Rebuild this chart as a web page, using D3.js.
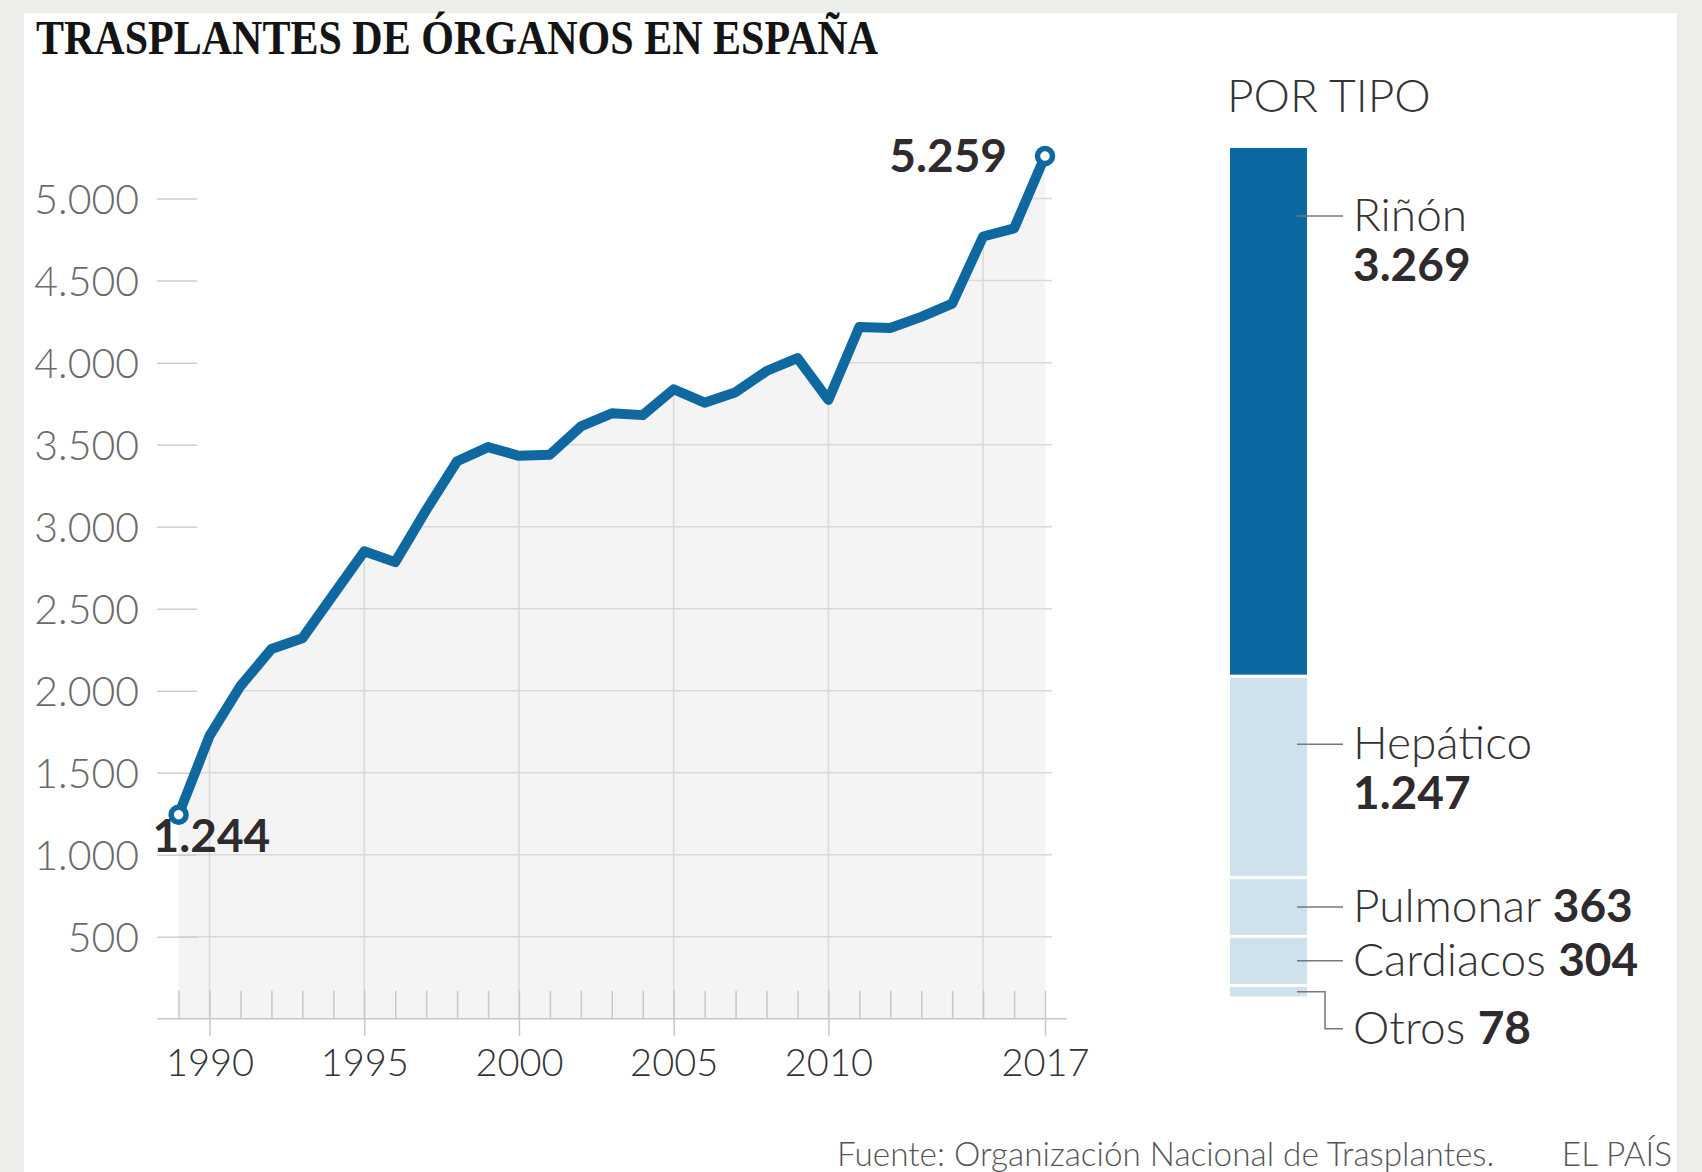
<!DOCTYPE html>
<html lang="es">
  <head>
    <meta charset="UTF-8"/>
    <title>Trasplantes de órganos en España</title>
    <script src="https://d3js.org/d3.v7.min.js"></script>
    <style>
      body { margin: 0; background: #eceeea; }
      text { font-family: 'Lato', sans-serif; }
      .title { font-family: 'Liberation Serif', serif; font-weight: bold; font-size: 48px; fill: #141414; }
      .axis .domain { display: none; }
      .y-axis text { font-size: 41px; font-weight: 300; fill: #6a6a6a; }
      .y-axis line { stroke: #cfcfcf; stroke-width: 1.5px; }
      .x-axis text { font-size: 38px; font-weight: 300; fill: #333; }
      .x-axis line, .x-minor line { stroke: #c8c8c8; stroke-width: 1.5px; }
      .grid line { stroke: #d9d9d9; stroke-width: 1.5px; }
      .value-label { font-size: 46px; font-weight: 700; fill: #2e2a2e; }
      .tipo-name { font-size: 46px; font-weight: 300; fill: #333; }
      .tipo-value { font-weight: 700; fill: #2e2a2e; }
      .leader { stroke: #777; stroke-width: 1.5px; fill: none; }
      .footer { font-size: 33.3px; font-weight: 300; fill: #555; }
    </style>
  </head>
  <body>
    <script type="text/javascript">

      // Total de trasplantes por año
      const years = [1989, 1990, 1991, 1992, 1993, 1994, 1995, 1996, 1997, 1998,
                     1999, 2000, 2001, 2002, 2003, 2004, 2005, 2006, 2007, 2008,
                     2009, 2010, 2011, 2012, 2013, 2014, 2015, 2016, 2017]
      const totals = [1244, 1725, 2029, 2254, 2320, 2585, 2850, 2784, 3101, 3399,
                      3485, 3432, 3439, 3611, 3691, 3680, 3838, 3756, 3820, 3949,
                      4028, 3773, 4218, 4211, 4279, 4360, 4769, 4818, 5259]

      const yTicks = [500, 1000, 1500, 2000, 2500, 3000, 3500, 4000, 4500, 5000]
      const labelYears = [1990, 1995, 2000, 2005, 2010, 2017]
      const gridYears = [1990, 1995, 2000, 2005, 2010, 2015]

      // Trasplantes de 2017 por tipo
      const tipos = ["Riñón", "Hepático", "Pulmonar", "Cardiacos", "Otros"]
      const tipoValores = [3269, 1247, 363, 304, 78]

      const titleText = "TRASPLANTES DE ÓRGANOS EN ESPAÑA"
      const sourceText = "Fuente: Organización Nacional de Trasplantes."

      const outerWidth = 1702,
            outerHeight = 1172

      const es = d3.formatLocale({decimal: ",", thousands: ".", grouping: [3], currency: ["", " €"]})
      const fmt = es.format(",d")

      const svg = d3.select("body").append("svg")
          .attr("width", outerWidth)
          .attr("height", outerHeight)

      svg.append("rect")
          .attr("width", outerWidth).attr("height", outerHeight)
          .attr("fill", "#eceeea")
      svg.append("rect")
          .attr("x", 24).attr("y", 13)
          .attr("width", 1653).attr("height", outerHeight - 13)
          .attr("fill", "#fff")

      svg.append("text")
          .attr("class", "title")
          .attr("x", 36).attr("y", 54)
          .attr("textLength", 842)
          .attr("lengthAdjust", "spacingAndGlyphs")
          .text(titleText)

      // ---- line chart ----
      const x = d3.scaleLinear()
          .domain([1989, 2017])
          .range([178.6, 1045])

      const y = d3.scaleLinear()
          .domain([0, 5000])
          .range([1018.8, 198.6])

      const series = years.map((yr, i) => ({year: yr, value: totals[i]}))

      const area = d3.area()
          .x(d => x(d.year))
          .y0(y(0))
          .y1(d => y(d.value))

      const line = d3.line()
          .x(d => x(d.year))
          .y(d => y(d.value))

      const defs = svg.append("defs")
      const clip = defs.append("clipPath").attr("id", "under")
      clip.append("path").attr("d", area(series))
      clip.append("rect")
          .attr("x", x(2017)).attr("y", y(totals[totals.length - 1]))
          .attr("width", 8).attr("height", y(0) - y(totals[totals.length - 1]))

      svg.append("path")
          .attr("d", area(series))
          .attr("fill", "#f4f4f4")

      // gridlines, only visible under the curve
      const grid = svg.append("g")
          .attr("class", "grid")
          .attr("clip-path", "url(#under)")

      grid.selectAll(".h")
        .data(yTicks)
        .join("line")
          .attr("x1", 157).attr("x2", 1052)
          .attr("y1", d => y(d)).attr("y2", d => y(d))

      grid.selectAll(".v")
        .data(gridYears)
        .join("line")
          .attr("x1", d => x(d)).attr("x2", d => x(d))
          .attr("y1", y(0)).attr("y2", y(5300))

      // y axis
      svg.append("g")
          .attr("class", "axis y-axis")
          .attr("transform", "translate(197,0)")
          .call(d3.axisLeft(y).tickValues(yTicks).tickSize(40).tickPadding(18).tickFormat(fmt))
          .call(g => g.selectAll("text").attr("dy", "0.36em"))

      // minor year ticks
      svg.append("g")
          .attr("class", "axis x-minor")
          .attr("transform", `translate(0,${y(0)})`)
          .call(d3.axisBottom(x).tickValues(years).tickSize(-28).tickFormat(""))

      // x axis with labels
      svg.append("g")
          .attr("class", "axis x-axis")
          .attr("transform", `translate(0,${y(0)})`)
          .call(d3.axisBottom(x).tickValues(labelYears).tickSize(17).tickFormat(d3.format("d")))
          .call(g => g.selectAll("text").attr("y", 57).attr("dy", 0))

      svg.append("line")
          .attr("x1", 157).attr("x2", 1067)
          .attr("y1", y(0)).attr("y2", y(0))
          .attr("stroke", "#c8c8c8").attr("stroke-width", 1.5)

      svg.append("path")
          .attr("d", line(series))
          .attr("fill", "none")
          .attr("stroke", "#0f69a0")
          .attr("stroke-width", 10)
          .attr("stroke-linejoin", "round")

      const ends = [series[0], series[series.length - 1]]
      svg.selectAll(".endpoint")
        .data(ends)
        .join("circle")
          .attr("cx", d => x(d.year))
          .attr("cy", d => y(d.value))
          .attr("r", 7.5)
          .attr("fill", "#fff")
          .attr("stroke", "#0f69a0")
          .attr("stroke-width", 5.5)

      svg.append("text")
          .attr("class", "value-label")
          .attr("x", x(ends[0].year) - 26)
          .attr("y", y(ends[0].value) + 37)
          .text(fmt(ends[0].value))

      svg.append("text")
          .attr("class", "value-label")
          .attr("x", x(ends[1].year) - 38)
          .attr("y", y(ends[1].value) + 16)
          .attr("text-anchor", "end")
          .text(fmt(ends[1].value))

      // ---- stacked bar por tipo ----
      svg.append("text")
          .attr("class", "tipo-name")
          .attr("x", 1227).attr("y", 112)
          .attr("font-size", 44)
          .attr("fill", "#444")
          .text("POR TIPO")

      const totalTipos = d3.sum(tipoValores)
      const yBar = d3.scaleLinear()
          .domain([0, totalTipos])
          .range([148, 998])

      let acc = 0
      const segs = tipos.map((t, i) => {
        const s = {tipo: t, value: tipoValores[i], y0: acc, y1: acc + tipoValores[i]}
        acc += tipoValores[i]
        return s
      })

      const barX = 1230, barW = 77, gap = 3

      svg.selectAll(".seg")
        .data(segs)
        .join("rect")
          .attr("x", barX)
          .attr("width", barW)
          .attr("y", (d, i) => yBar(d.y0) + (i ? gap / 2 : 0))
          .attr("height", (d, i) => Math.max(1, yBar(d.y1) - yBar(d.y0) - (i ? gap : gap / 2)))
          .attr("fill", (d, i) => i === 0 ? "#0b69a1" : "#cfe1ec")

      const labelX = 1353
      segs.forEach((d, i) => {
        const big = i < 2
        const mid = (yBar(d.y0) + yBar(d.y1)) / 2
        const ly = big ? yBar(d.y0) + 68 : mid
        if (d.tipo === "Otros") {
          const drop = ly + 37
          svg.append("path")
              .attr("class", "leader")
              .attr("d", `M${barX + barW - 10},${ly}H${barX + barW + 18}V${drop}H${labelX - 10}`)
          const t = svg.append("text").attr("class", "tipo-name")
              .attr("x", labelX).attr("y", drop + 15)
          t.append("tspan").text(d.tipo + " ")
          t.append("tspan").attr("class", "tipo-value").text(fmt(d.value))
          return
        }
        svg.append("line")
            .attr("class", "leader")
            .attr("x1", barX + barW - 10).attr("x2", labelX - 10)
            .attr("y1", ly).attr("y2", ly)
        const t = svg.append("text").attr("class", "tipo-name")
            .attr("x", labelX).attr("y", ly + 15)
        if (big) {
          t.text(d.tipo)
          svg.append("text")
              .attr("class", "tipo-name tipo-value")
              .attr("x", labelX).attr("y", ly + 65)
              .text(fmt(d.value))
        } else {
          t.append("tspan").text(d.tipo + " ")
          t.append("tspan").attr("class", "tipo-value").text(fmt(d.value))
        }
      })

      // ---- footer ----
      svg.append("text")
          .attr("class", "footer")
          .attr("x", 837).attr("y", 1166)
          .text(sourceText)

      svg.append("text")
          .attr("class", "footer")
          .attr("x", 1672).attr("y", 1166)
          .attr("text-anchor", "end")
          .text("EL PAÍS")

    </script>
  </body>
</html>
